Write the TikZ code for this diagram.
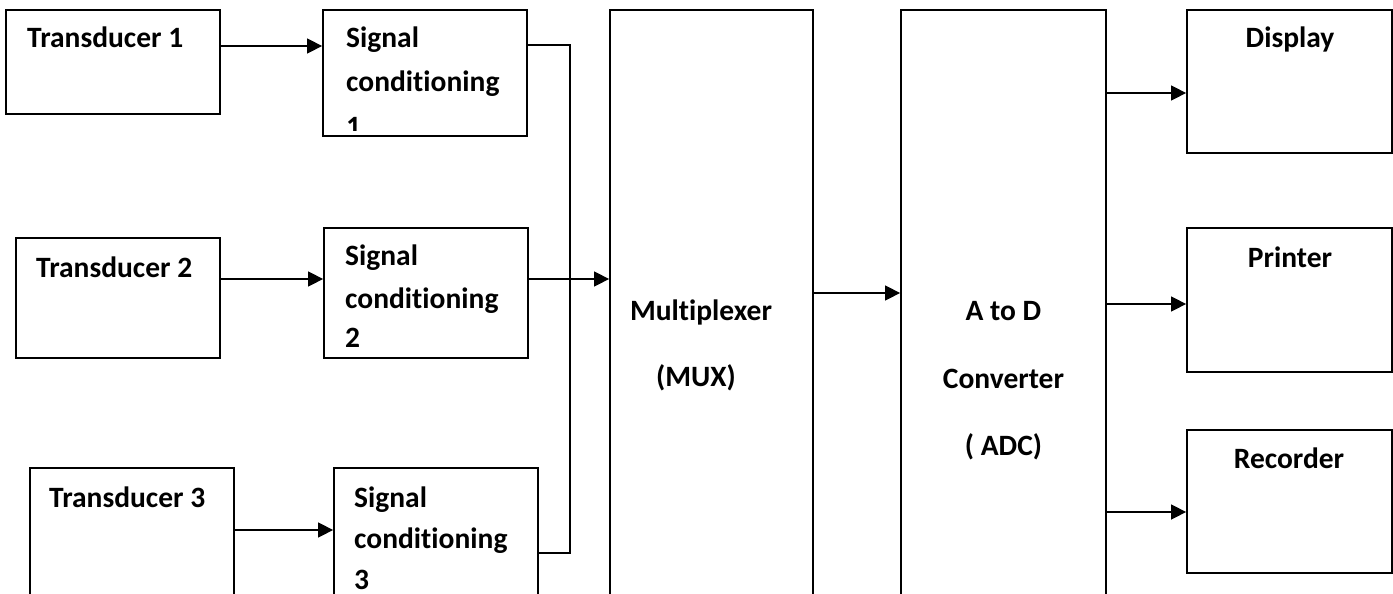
\documentclass[tikz,border=0pt]{standalone}
\usepackage{fontspec}
\setmainfont{Carlito}[Ligatures=NoCommon]
\usetikzlibrary{arrows.meta}
\begin{document}
\begin{tikzpicture}[x=1pt,y=-1pt,
  blk/.style={draw, line width=1.8pt, inner sep=0pt, fill=none},
  txt/.style={inner sep=0pt, font=\bfseries\fontsize{29.5}{35}\selectfont},
  arr/.style={line width=1.5pt, -{Triangle[length=15pt,width=15pt]}},
  ln/.style={line width=1.5pt}]
\fill[white] (0,0) rectangle (1393,594);
\clip (0,0) rectangle (1393,594);
% blocks
\node[blk, minimum width=214pt, minimum height=104pt] (t1) at (113,62) {};
\node[blk, minimum width=204pt, minimum height=126pt] (sc1) at (425,73) {};
\node[blk, minimum width=204pt, minimum height=120pt] (t2) at (118,298) {};
\node[blk, minimum width=204pt, minimum height=130pt] (sc2) at (426,293) {};
\node[blk, minimum width=204pt, minimum height=152pt] (t3) at (132,544) {};
\node[blk, minimum width=204pt, minimum height=152pt] (sc3) at (436,544) {};
\node[blk, minimum width=203pt, minimum height=610pt] (mux) at (711.5,315) {};
\node[blk, minimum width=205pt, minimum height=610pt] (adc) at (1003.5,315) {};
\node[blk, minimum width=205pt, minimum height=143pt] (disp) at (1289.5,81.5) {};
\node[blk, minimum width=205pt, minimum height=144pt] (prn) at (1289.5,300) {};
\node[blk, minimum width=205pt, minimum height=143pt] (rec) at (1289.5,501.5) {};
% texts
\node[txt, anchor=base west] (t1a) at (27,48) {Transducer 1};
\node[txt, anchor=base west] (sc1a) at (346,48) {Signal};
\node[txt, anchor=base west] (sc1b) at (346,92) {conditioning};
\begin{scope}
\clip (sc1.north west) rectangle ([yshift=6pt]sc1.south east);
\node[txt, anchor=base west] (sc1c) at (346,136) {1};
\end{scope}
\node[txt, anchor=base west] (t2a) at (36,277) {Transducer 2};
\node[txt, anchor=base west] (sc2a) at (345,265) {Signal};
\node[txt, anchor=base west] (sc2b) at (345,308) {conditioning};
\node[txt, anchor=base west] (sc2c) at (345,347) {2};
\node[txt, anchor=base west] (t3a) at (49,507) {Transducer 3};
\node[txt, anchor=base west] (sc3a) at (354,507) {Signal};
\node[txt, anchor=base west] (sc3b) at (354,548) {conditioning};
\node[txt, anchor=base west] (sc3c) at (354,589) {3};
\node[txt, anchor=base] (muxa) at (701,320) {Multiplexer};
\node[txt, anchor=base] (muxb) at (696,386) {(MUX)};
\node[txt, anchor=base] (adca) at (1003.5,320) {A to D};
\node[txt, anchor=base] (adcb) at (1003.5,388) {Converter};
\node[txt, anchor=base] (adcc) at (1003.5,455) {( ADC)};
\node[txt, anchor=base] (dispa) at (1290,48) {Display};
\node[txt, anchor=base] (prna) at (1290,267) {Printer};
\node[txt, anchor=base] (reca) at (1289,468) {Recorder};
% helper coordinates
\coordinate (y46) at (0,46);
\coordinate (y45) at (0,45);
\coordinate (y279) at (0,279);
\coordinate (y530) at (0,530);
\coordinate (y293) at (0,293);
\coordinate (y93) at (0,93);
\coordinate (y304) at (0,304);
\coordinate (y512) at (0,512);
\coordinate (busb) at (570,553);
% connectors
\draw[arr] (t1.east |- y46) -- (sc1.west |- y46);
\draw[arr] (t2.east |- y279) -- (sc2.west |- y279);
\draw[arr] (t3.east |- y530) -- (sc3.west |- y530);
\draw[ln] (sc1.east |- y45) -| (busb) -- (sc3.east |- busb);
\draw[arr] (sc2.east |- y279) -- (mux.west |- y279);
\draw[arr] (mux.east |- y293) -- (adc.west |- y293);
\draw[arr] (adc.east |- y93) -- (disp.west |- y93);
\draw[arr] (adc.east |- y304) -- (prn.west |- y304);
\draw[arr] (adc.east |- y512) -- (rec.west |- y512);
\end{tikzpicture}
\end{document}
